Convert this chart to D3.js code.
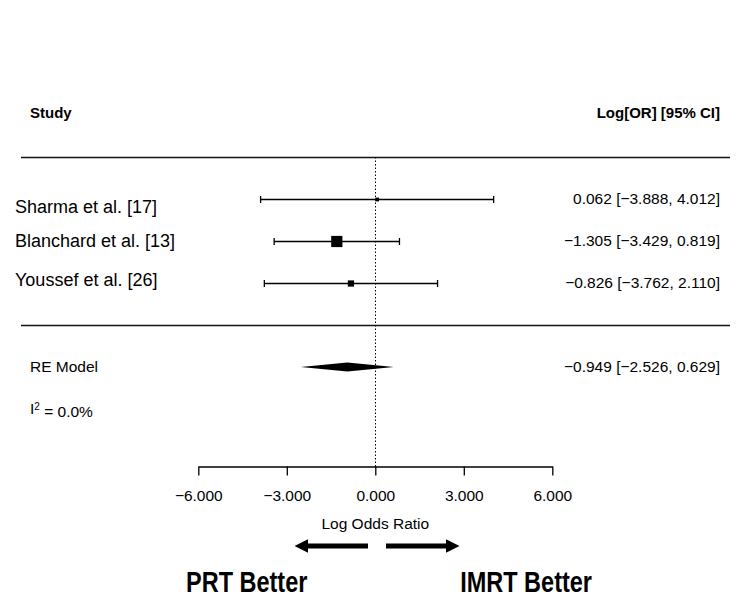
<!DOCTYPE html>
<html>
<head>
<meta charset="utf-8">
<script src="https://cdn.jsdelivr.net/npm/d3@7"></script>
<style>
  body { margin: 0; background: #fff; }
  text { font-family: "Liberation Sans", Arial, sans-serif; fill: #000; }
</style>
</head>
<body>
<div id="chart"></div>
<script>
// study data
let studies = ['Sharma et al. [17]', 'Blanchard et al. [13]', 'Youssef et al. [26]']
let estimates = [0.062, -1.305, -0.826]
let lower = [-3.888, -3.429, -3.762]
let upper = [4.012, 0.819, 2.110]

let pooled = {label: 'RE Model', est: -0.949, lo: -2.526, hi: 0.629}
let xTicks = [-6, -3, 0, 3, 6]

let width = 750
let height = 609

let x = d3.scaleLinear()
	.domain([-6, 6])
	.range([198.3, 552.3])

// rows counted from the bottom like metafor: 3..1 studies, -1 summary
let y = d3.scaleLinear()
	.domain([5, -2])
	.range([115, 409])

let axisY = 466.5

// weights from the CI widths, used only for square size
let weights = studies.map((d, i) => {
	let se = (upper[i] - lower[i]) / (2 * 1.96)
	return 1 / (se * se)
})

let size = d3.scaleLinear()
	.domain(d3.extent(weights))
	.range([3.8, 11.2])

const svg = d3.select('#chart')
	.append('svg')
	.attr('width', width)
	.attr('height', height)

let rows = studies.map((d, i) => ({
	name: d, est: estimates[i], lo: lower[i], hi: upper[i], w: weights[i], row: studies.length - i
}))

// headers
svg.append('text')
	.attr('x', 30).attr('y', y(5) - 2.5).attr('dy', '0.35em')
	.style('font-size', '15px').style('font-weight', 'bold')
	.text('Study')

svg.append('text')
	.attr('x', 720).attr('y', y(5) - 2.5).attr('dy', '0.35em')
	.attr('text-anchor', 'end')
	.style('font-size', '15px').style('font-weight', 'bold')
	.text('Log[OR] [95% CI]')

// separator lines
;[4, 0].forEach(function(r){
	svg.append('line')
		.attr('x1', 21).attr('x2', 730)
		.attr('y1', y(r) + 0.5).attr('y2', y(r) + 0.5)
		.attr('stroke', '#111').attr('stroke-width', 1.4)
})

// reference line at 0
svg.append('line')
	.attr('x1', Math.round(x(0)) + 0.5).attr('x2', Math.round(x(0)) + 0.5)
	.attr('y1', y(4)).attr('y2', axisY)
	.attr('stroke', '#000')
	.attr('stroke-width', 1)
	.attr('stroke-dasharray', '1.5,2')

// the labels in the picture sit a little off their rows
let labelShift = [8, 0, -3]

let g = svg.selectAll('.study')
	.data(rows)
	.enter()
	.append('g')
	.attr('class', 'study')

g.append('text')
	.attr('x', 15)
	.attr('y', (d, i) => y(d.row) + labelShift[i])
	.attr('dy', '0.35em')
	.style('font-size', '18px')
	.text(d => d.name)

g.append('line')
	.attr('x1', d => x(d.lo)).attr('x2', d => x(d.hi))
	.attr('y1', d => y(d.row) + 0.5).attr('y2', d => y(d.row) + 0.5)
	.attr('stroke', '#000').attr('stroke-width', 1.3)

g.selectAll('.cap')
	.data(d => [{v: d.lo, row: d.row}, {v: d.hi, row: d.row}])
	.enter()
	.append('line')
	.attr('x1', d => x(d.v)).attr('x2', d => x(d.v))
	.attr('y1', d => y(d.row) - 3).attr('y2', d => y(d.row) + 4)
	.attr('stroke', '#000').attr('stroke-width', 1.3)

g.append('rect')
	.attr('x', d => x(d.est) - size(d.w) / 2)
	.attr('y', d => y(d.row) + 0.5 - size(d.w) / 2)
	.attr('width', d => size(d.w))
	.attr('height', d => size(d.w))
	.attr('fill', '#000')

let fmt = d3.format('.3f')
let ci = d => fmt(d.est) + ' [' + fmt(d.lo) + ', ' + fmt(d.hi) + ']'

g.append('text')
	.attr('x', 720)
	.attr('y', d => y(d.row))
	.attr('dy', '0.35em')
	.attr('text-anchor', 'end')
	.style('font-size', '15.5px')
	.text(ci)

// summary diamond
svg.append('text')
	.attr('x', 30).attr('y', y(-1)).attr('dy', '0.35em')
	.style('font-size', '15.5px')
	.text(pooled.label)

svg.append('polygon')
	.attr('points', [
		[x(pooled.lo), y(-1)],
		[x(pooled.est), y(-1) - 4.5],
		[x(pooled.hi), y(-1)],
		[x(pooled.est), y(-1) + 4.5]
	].map(p => p.join(',')).join(' '))
	.attr('fill', '#000')

svg.append('text')
	.attr('x', 720).attr('y', y(-1)).attr('dy', '0.35em')
	.attr('text-anchor', 'end')
	.style('font-size', '15.5px')
	.text(ci(pooled))

let i2 = svg.append('text')
	.attr('x', 30).attr('y', y(-2)).attr('dy', '0.35em')
	.style('font-size', '15.5px')
i2.append('tspan').text('I')
i2.append('tspan').attr('dy', '-0.45em').style('font-size', '10px').text('2')
i2.append('tspan').attr('dy', '0.45em').text(' = 0.0%')

// x axis
let xAxis = d3.axisBottom(x)
	.tickValues(xTicks)
	.tickSize(9)
	.tickSizeOuter(0)
	.tickPadding(14)
	.tickFormat(d => fmt(d).replace('-', '\u2212'))

let ax = svg.append('g')
	.attr('transform', `translate(0,${axisY})`)
	.call(xAxis)

ax.select('.domain').attr('stroke', '#000').attr('stroke-width', 1.3)
ax.selectAll('.tick line').attr('stroke', '#000').attr('stroke-width', 1.3)
ax.selectAll('.tick text')
	.style('font-size', '15.5px')
	.style('font-family', '"Liberation Sans", Arial, sans-serif')
	.attr('fill', '#000')

svg.append('text')
	.attr('x', x(0)).attr('y', 529)
	.attr('text-anchor', 'middle')
	.style('font-size', '15.5px')
	.text('Log Odds Ratio')

// direction arrows
svg.append('defs').append('marker')
	.attr('id', 'head')
	.attr('viewBox', '0 0 10 10')
	.attr('refX', 0).attr('refY', 5)
	.attr('markerWidth', 2.7).attr('markerHeight', 2.8)
	.attr('orient', 'auto')
	.append('path')
	.attr('d', 'M0,0 L10,5 L0,10 Z')
	.attr('fill', '#000')

let arrows = [[368, 308], [386, 446]]
arrows.forEach(function(a){
	svg.append('line')
		.attr('x1', a[0]).attr('x2', a[1])
		.attr('y1', 546).attr('y2', 546)
		.attr('stroke', '#000').attr('stroke-width', 5)
		.attr('marker-end', 'url(#head)')
})

svg.append('text')
	.attr('transform', 'translate(186,592) scale(1,1.22)')
	.style('font-size', '23.5px').style('font-weight', 'bold')
	.text('PRT Better')

svg.append('text')
	.attr('transform', 'translate(592,592) scale(1,1.22)')
	.attr('text-anchor', 'end')
	.style('font-size', '23.5px').style('font-weight', 'bold')
	.text('IMRT Better')
</script>
</body>
</html>
